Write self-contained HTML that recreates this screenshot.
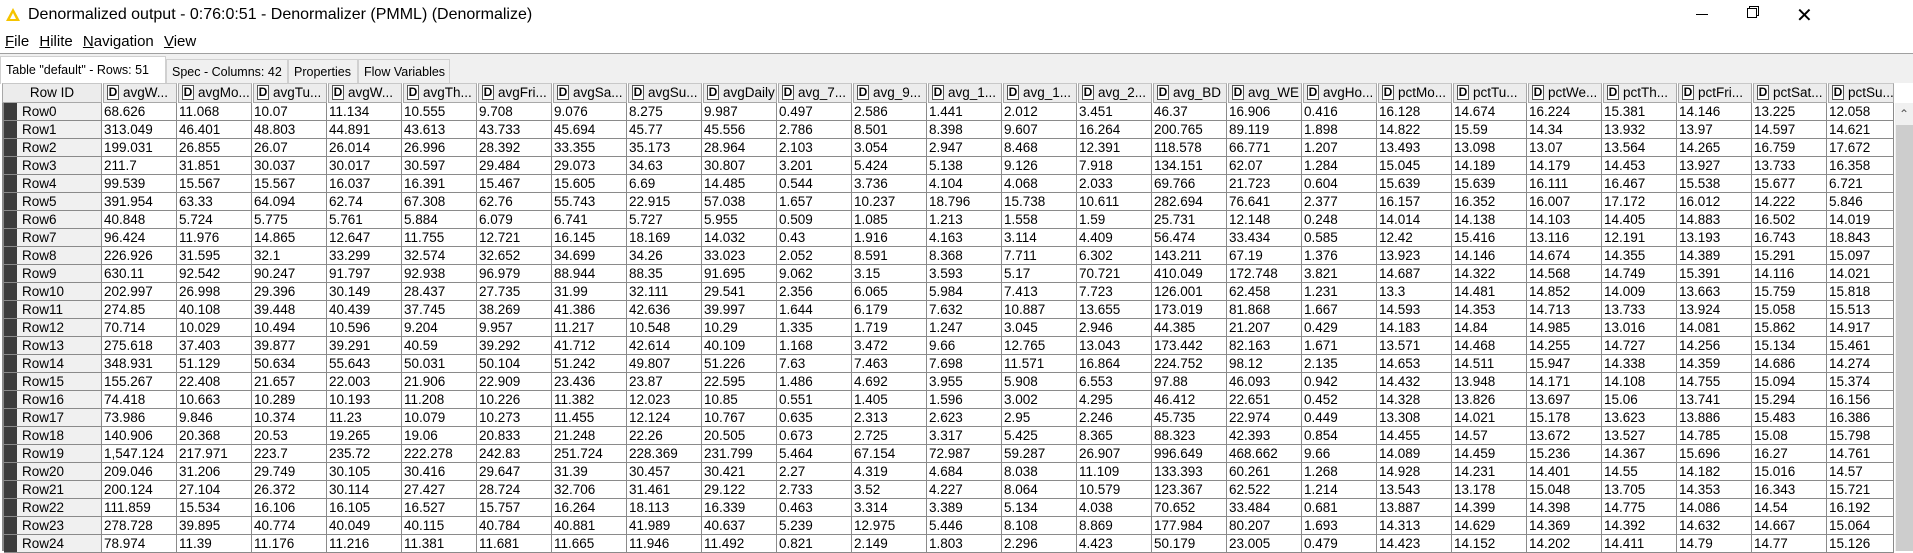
<!DOCTYPE html>
<html><head><meta charset="utf-8"><style>
*{box-sizing:border-box;margin:0;padding:0}
body{width:1913px;height:551px;overflow:hidden;background:#fff;font-family:"Liberation Sans",Tahoma,sans-serif;position:relative;color:#000}
.abs{position:absolute}
#title{left:28px;top:6px;font-size:16px;white-space:nowrap}
#menu{left:5px;top:33px;font-size:15px;white-space:nowrap}
#menu span{margin-right:6px}
#tabbar{left:0;top:53px;width:1913px;height:30px;background:#f0f0f0;border-top:1px solid #a0a0a0}
.tab{position:absolute;top:5px;height:25px;font-size:12.5px;line-height:24px;padding-left:5px;border:1px solid #d0d0d0;border-bottom:none;white-space:nowrap;overflow:hidden}
.cell{position:absolute;height:18px;font-size:13.5px;line-height:17px;padding-left:2px;border-right:1px solid #8a8a8a;border-bottom:1px solid #8a8a8a;white-space:nowrap;overflow:hidden}
.hdr{position:absolute;top:83px;height:20px;background:#ececec;border:1px solid #a8a8a8;border-top-color:#c8c8c8;font-size:13.5px;line-height:18px;white-space:nowrap;overflow:hidden}
.dbox{display:inline-block;width:12px;height:15px;border:1px solid #555;background:#fff;font-size:12px;line-height:13px;text-align:center;font-weight:bold;margin:1px 4px 0 3px;vertical-align:top}
</style></head><body>
<svg class="abs" style="left:5px;top:7px" width="16" height="15"><polygon points="8,1 15,14 1,14" fill="#f5c400"/><polygon points="8,6 11,12 5,12" fill="#fff"/></svg>
<div id="title" class="abs">Denormalized output - 0:76:0:51 - Denormalizer (PMML) (Denormalize)</div>
<div class="abs" style="left:1696px;top:14px;width:12px;height:1px;background:#000"></div>
<div class="abs" style="left:1747px;top:8px;width:10px;height:10px;border:1px solid #000;background:#fff;box-shadow:2px -2px 0 -1px #fff,2px -2px 0 0 #000"></div>
<div class="abs" style="left:1796px;top:3px;font-size:20px">✕</div>
<div id="menu" class="abs"><span><u>F</u>ile</span> <span><u>H</u>ilite</span> <span><u>N</u>avigation</span> <span><u>V</u>iew</span></div>
<div id="tabbar" class="abs">
<div class="tab" style="left:0;width:166px;top:2px;height:28px;background:#fff;line-height:26px">Table "default" - Rows: 51</div>
<div class="tab" style="left:166px;width:122px">Spec - Columns: 42</div>
<div class="tab" style="left:288px;width:70px">Properties</div>
<div class="tab" style="left:358px;width:92px">Flow Variables</div>
</div>
<div id="grid"></div>
<div class="abs" style="left:1895px;top:103px;width:18px;height:448px;background:#f0f0f0">
<div class="abs" style="left:4px;top:4px;font-size:12px;color:#555">&#8963;</div>
<div class="abs" style="left:1px;top:22px;width:17px;height:426px;background:#cdcdcd"></div>
</div>
<script>
const columns=["avgW...","avgMo...","avgTu...","avgW...","avgTh...","avgFri...","avgSa...","avgSu...","avgDaily","avg_7...","avg_9...","avg_1...","avg_1...","avg_2...","avg_BD","avg_WE","avgHo...","pctMo...","pctTu...","pctWe...","pctTh...","pctFri...","pctSat...","pctSu..."];
const rows=[
"68.626 11.068 10.07 11.134 10.555 9.708 9.076 8.275 9.987 0.497 2.586 1.441 2.012 3.451 46.37 16.906 0.416 16.128 14.674 16.224 15.381 14.146 13.225 12.058",
"313.049 46.401 48.803 44.891 43.613 43.733 45.694 45.77 45.556 2.786 8.501 8.398 9.607 16.264 200.765 89.119 1.898 14.822 15.59 14.34 13.932 13.97 14.597 14.621",
"199.031 26.855 26.07 26.014 26.996 28.392 33.355 35.173 28.964 2.103 3.054 2.947 8.468 12.391 118.578 66.771 1.207 13.493 13.098 13.07 13.564 14.265 16.759 17.672",
"211.7 31.851 30.037 30.017 30.597 29.484 29.073 34.63 30.807 3.201 5.424 5.138 9.126 7.918 134.151 62.07 1.284 15.045 14.189 14.179 14.453 13.927 13.733 16.358",
"99.539 15.567 15.567 16.037 16.391 15.467 15.605 6.69 14.485 0.544 3.736 4.104 4.068 2.033 69.766 21.723 0.604 15.639 15.639 16.111 16.467 15.538 15.677 6.721",
"391.954 63.33 64.094 62.74 67.308 62.76 55.743 22.915 57.038 1.657 10.237 18.796 15.738 10.611 282.694 76.641 2.377 16.157 16.352 16.007 17.172 16.012 14.222 5.846",
"40.848 5.724 5.775 5.761 5.884 6.079 6.741 5.727 5.955 0.509 1.085 1.213 1.558 1.59 25.731 12.148 0.248 14.014 14.138 14.103 14.405 14.883 16.502 14.019",
"96.424 11.976 14.865 12.647 11.755 12.721 16.145 18.169 14.032 0.43 1.916 4.163 3.114 4.409 56.474 33.434 0.585 12.42 15.416 13.116 12.191 13.193 16.743 18.843",
"226.926 31.595 32.1 33.299 32.574 32.652 34.699 34.26 33.023 2.052 8.591 8.368 7.711 6.302 143.211 67.19 1.376 13.923 14.146 14.674 14.355 14.389 15.291 15.097",
"630.11 92.542 90.247 91.797 92.938 96.979 88.944 88.35 91.695 9.062 3.15 3.593 5.17 70.721 410.049 172.748 3.821 14.687 14.322 14.568 14.749 15.391 14.116 14.021",
"202.997 26.998 29.396 30.149 28.437 27.735 31.99 32.111 29.541 2.356 6.065 5.984 7.413 7.723 126.001 62.458 1.231 13.3 14.481 14.852 14.009 13.663 15.759 15.818",
"274.85 40.108 39.448 40.439 37.745 38.269 41.386 42.636 39.997 1.644 6.179 7.632 10.887 13.655 173.019 81.868 1.667 14.593 14.353 14.713 13.733 13.924 15.058 15.513",
"70.714 10.029 10.494 10.596 9.204 9.957 11.217 10.548 10.29 1.335 1.719 1.247 3.045 2.946 44.385 21.207 0.429 14.183 14.84 14.985 13.016 14.081 15.862 14.917",
"275.618 37.403 39.877 39.291 40.59 39.292 41.712 42.614 40.109 1.168 3.472 9.66 12.765 13.043 173.442 82.163 1.671 13.571 14.468 14.255 14.727 14.256 15.134 15.461",
"348.931 51.129 50.634 55.643 50.031 50.104 51.242 49.807 51.226 7.63 7.463 7.698 11.571 16.864 224.752 98.12 2.135 14.653 14.511 15.947 14.338 14.359 14.686 14.274",
"155.267 22.408 21.657 22.003 21.906 22.909 23.436 23.87 22.595 1.486 4.692 3.955 5.908 6.553 97.88 46.093 0.942 14.432 13.948 14.171 14.108 14.755 15.094 15.374",
"74.418 10.663 10.289 10.193 11.208 10.226 11.382 12.023 10.85 0.551 1.405 1.596 3.002 4.295 46.412 22.651 0.452 14.328 13.826 13.697 15.06 13.741 15.294 16.156",
"73.986 9.846 10.374 11.23 10.079 10.273 11.455 12.124 10.767 0.635 2.313 2.623 2.95 2.246 45.735 22.974 0.449 13.308 14.021 15.178 13.623 13.886 15.483 16.386",
"140.906 20.368 20.53 19.265 19.06 20.833 21.248 22.26 20.505 0.673 2.725 3.317 5.425 8.365 88.323 42.393 0.854 14.455 14.57 13.672 13.527 14.785 15.08 15.798",
"1,547.124 217.971 223.7 235.72 222.278 242.83 251.724 228.369 231.799 5.464 67.154 72.987 59.287 26.907 996.649 468.662 9.66 14.089 14.459 15.236 14.367 15.696 16.27 14.761",
"209.046 31.206 29.749 30.105 30.416 29.647 31.39 30.457 30.421 2.27 4.319 4.684 8.038 11.109 133.393 60.261 1.268 14.928 14.231 14.401 14.55 14.182 15.016 14.57",
"200.124 27.104 26.372 30.114 27.427 28.724 32.706 31.461 29.122 2.733 3.52 4.227 8.064 10.579 123.367 62.522 1.214 13.543 13.178 15.048 13.705 14.353 16.343 15.721",
"111.859 15.534 16.106 16.105 16.527 15.757 16.264 18.113 16.339 0.463 3.314 3.389 5.134 4.038 70.652 33.484 0.681 13.887 14.399 14.398 14.775 14.086 14.54 16.192",
"278.728 39.895 40.774 40.049 40.115 40.784 40.881 41.989 40.637 5.239 12.975 5.446 8.108 8.869 177.984 80.207 1.693 14.313 14.629 14.369 14.392 14.632 14.667 15.064",
"78.974 11.39 11.176 11.216 11.381 11.681 11.665 11.946 11.492 0.821 2.149 1.803 2.296 4.423 50.179 23.005 0.479 14.423 14.152 14.202 14.411 14.79 14.77 15.126"
];
const g=document.getElementById('grid');
const X0=102,CW=75,Y0=103,RH=18;
function colW(i){return i===columns.length-1?67:CW;}
function mk(cls,l,t,w,h,html){const d=document.createElement('div');d.className=cls;d.style.left=l+'px';d.style.top=t+'px';d.style.width=w+'px';if(h)d.style.height=h+'px';d.innerHTML=html;g.appendChild(d);return d;}
let h=mk('hdr',2,0,100,0,'');h.style.top='83px';h.style.textAlign='center';h.style.paddingLeft='0';h.textContent='Row ID';


columns.forEach((c,i)=>{
  const el=mk('hdr',X0+i*CW+1,0,colW(i)-1,0,'<span class="dbox">D</span>'+c);el.style.top='83px';
  
  
});
rows.forEach((r,ri)=>{
  const y=Y0+ri*RH;
  const m=document.createElement('div');m.className='abs';m.style.cssText=`left:4px;top:${y}px;width:13px;height:18px;background:#3c3c3c;border-bottom:1px solid #8a8a8a`;g.appendChild(m);
  
  
  const rid=mk('cell',17,y,85,RH,'Row'+ri);rid.style.background='#f0f0f0';rid.style.paddingLeft='5px';
  
  
  r.split(' ').forEach((v,ci)=>{
    const c=mk('cell',X0+ci*CW,y,colW(ci),RH,v);
    
    
  });
});
const lb=document.createElement('div');lb.className='abs';lb.style.cssText='left:2px;top:103px;width:2px;height:448px;background:#8a8a8a';g.appendChild(lb);


</script>
</body></html>
